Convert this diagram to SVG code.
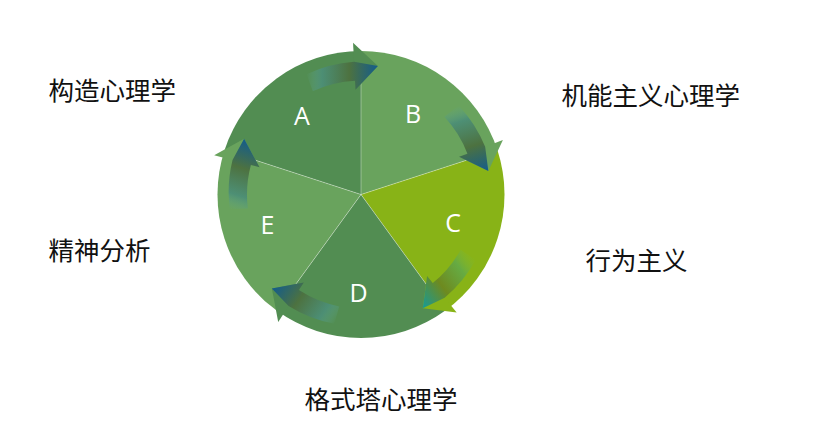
<svg xmlns="http://www.w3.org/2000/svg" width="824" height="436" viewBox="0 0 824 436">
  <style>
    .lbl { font-family: "Noto Sans CJK SC", "Noto Sans", sans-serif; font-size: 25.5px; fill: #111111; }
    .ltr { font-family: "Open Sans", "Noto Sans", sans-serif; font-size: 25px; fill: #ffffff; text-anchor: middle; }
    .dark { fill: #528D52; }
    .light { fill: #69A35D; }
    .lime { fill: #88B317; }
    .sep { stroke: #ffffff; stroke-opacity: 0.35; stroke-width: 1; fill: none; }
  </style>
  <defs>
    <linearGradient id="gArrow" x1="0" y1="0" x2="1" y2="0">
      <stop offset="0" stop-color="#5FA58A" stop-opacity="0"/>
      <stop offset="0.22" stop-color="#4C8E76" stop-opacity="0.95"/>
      <stop offset="0.6" stop-color="#4D7240" stop-opacity="1"/>
      <stop offset="1" stop-color="#135C8C" stop-opacity="1"/>
    </linearGradient>
    <linearGradient id="gArrowC" x1="0" y1="0" x2="1" y2="0">
      <stop offset="0" stop-color="#7DBA3A" stop-opacity="0"/>
      <stop offset="0.25" stop-color="#64AA45" stop-opacity="0.95"/>
      <stop offset="0.6" stop-color="#6E8A1F" stop-opacity="1"/>
      <stop offset="1" stop-color="#169A98" stop-opacity="1"/>
    </linearGradient>
    <path id="head" d="M353.04,42.71 L377.90,66.11 L355.50,89.64 Z"/>
    <path id="flow" d="M306.5,74.2 A133,133 0 0 1 354.04,61.68 L377.90,66.11 L355.50,89.64 L355.03,80.66 A114,114 0 0 0 312.82,91.18 Z"/>
  </defs>

  <g id="segment-A">
    <path class="dark" d="M361,194.5 L224.52,150.16 A143.5,143.5 0 0 1 361,51 Z"/>
  </g>
  <g id="segment-B">
    <path class="light" d="M361,194.5 L361,51 A143.5,143.5 0 0 1 497.48,150.16 Z"/>
  </g>
  <g id="segment-C">
    <path class="lime" d="M361,194.5 L497.48,150.16 A143.5,143.5 0 0 1 445.35,310.59 Z"/>
  </g>
  <g id="segment-D">
    <path class="dark" d="M361,194.5 L445.35,310.59 A143.5,143.5 0 0 1 276.65,310.59 Z"/>
  </g>
  <g id="segment-E">
    <path class="light" d="M361,194.5 L276.65,310.59 A143.5,143.5 0 0 1 224.52,150.16 Z"/>
  </g>

  <g id="separators">
    <line class="sep" x1="361" y1="194.5" x2="361" y2="51"/>
    <line class="sep" x1="361" y1="194.5" x2="497.48" y2="150.16"/>
    <line class="sep" x1="361" y1="194.5" x2="445.35" y2="310.59"/>
    <line class="sep" x1="361" y1="194.5" x2="276.65" y2="310.59"/>
    <line class="sep" x1="361" y1="194.5" x2="224.52" y2="150.16"/>
  </g>

  <g id="connectors">
    <use href="#head" class="dark"/>
    <use href="#head" class="light" transform="rotate(72 361 194.5)"/>
    <use href="#head" class="lime" transform="rotate(144 361 194.5)"/>
    <use href="#head" class="dark" transform="rotate(216 361 194.5)"/>
    <use href="#head" class="light" transform="rotate(288 361 194.5)"/>
    <use href="#flow" fill="url(#gArrow)"/>
    <use href="#flow" fill="url(#gArrow)" transform="rotate(72 361 194.5)"/>
    <use href="#flow" fill="url(#gArrowC)" transform="rotate(144 361 194.5)"/>
    <use href="#flow" fill="url(#gArrow)" transform="rotate(216 361 194.5)"/>
    <use href="#flow" fill="url(#gArrow)" transform="rotate(288 361 194.5)"/>
  </g>

  <g id="letters">
    <text class="ltr" x="302" y="125">A</text>
    <text class="ltr" x="413" y="123">B</text>
    <text class="ltr" x="453" y="231.5">C</text>
    <text class="ltr" x="358.5" y="302">D</text>
    <text class="ltr" x="267.5" y="234">E</text>
  </g>

  <g id="label-structuralism"><text class="lbl" x="48.5" y="100.2">构造心理学</text></g>
  <g id="label-functionalism"><text class="lbl" x="561.5" y="104.5">机能主义心理学</text></g>
  <g id="label-behaviorism"><text class="lbl" x="585.5" y="270.3">行为主义</text></g>
  <g id="label-psychoanalysis"><text class="lbl" x="48.5" y="260.3">精神分析</text></g>
  <g id="label-gestalt"><text class="lbl" x="304.5" y="408.7">格式塔心理学</text></g>
</svg>
